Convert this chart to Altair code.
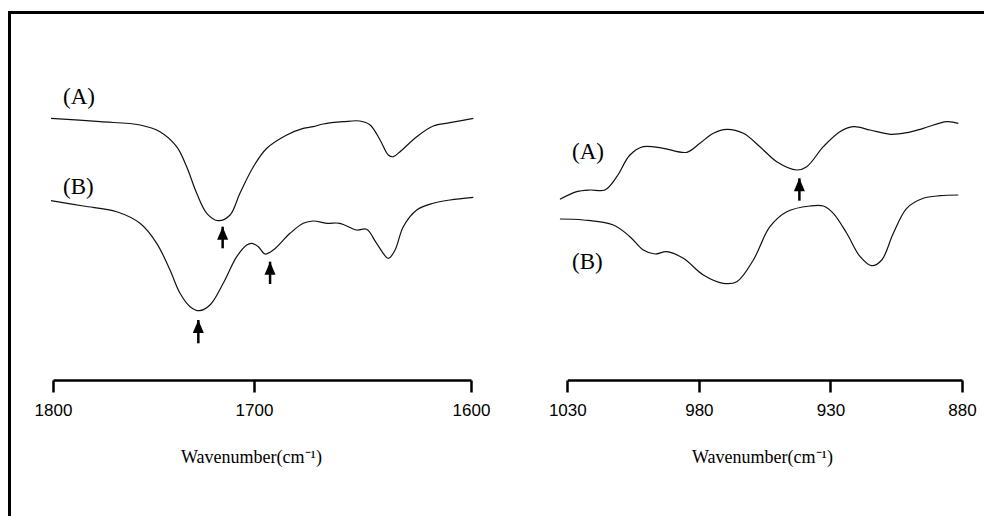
import altair as alt
import pandas as pd

# ---------------- data ----------------
# Left panel (1800-1600 cm-1), y in arbitrary transmittance units
left_wn_A = [1801, 1776.6, 1756.7, 1746.8, 1738.5, 1733.5, 1728.5, 1723.5, 1717.8, 1711.9,
             1707.0, 1700.3, 1694.1, 1684.9, 1677.3, 1672.7, 1668.1, 1658.8, 1651.2, 1646.5,
             1641.9, 1638.1, 1635.8, 1632.7, 1625.0, 1617.4, 1609.7, 1598.9]
left_A = [389.7, 386.3, 383, 376.3, 361.3, 341.3, 314.7, 294.7, 287.3, 293,
          314.7, 341.3, 359.7, 373, 379.7, 381.3, 384, 386.3, 387, 383,
          368, 353, 351.3, 356.3, 371.3, 382, 385.3, 389.7]

left_wn_B = [1801, 1784.9, 1768.3, 1756.7, 1748.4, 1741.8, 1736.8, 1731.8, 1727.2, 1721.9,
             1715.3, 1708.6, 1703.6, 1701.1, 1698.0, 1694.9, 1691.1, 1683.4, 1677.3, 1672.7,
             1666.5, 1660.4, 1652.7, 1648.1, 1643.5, 1638.1, 1635.0, 1631.2, 1625.0, 1617.4,
             1609.7, 1598.9]
left_B = [307.3, 302, 296.3, 284.7, 264.7, 238, 214.7, 201.3, 197.3, 203,
          224.7, 251.3, 263, 264.7, 261.3, 254, 258, 274.7, 284.7, 287,
          284.7, 284.7, 278, 278.7, 264.7, 249.7, 258, 281.3, 298, 304.7,
          308, 310.7]

# Right panel (1030-880 cm-1)
right_wn_A = [1032.8, 1026.4, 1021.4, 1015.7, 1011.2, 1006.2, 1001.1, 993.5, 984.6, 979.6,
              974.5, 969.4, 963.1, 956.8, 950.4, 942.8, 939.0, 932.7, 926.4, 921.3,
              914.9, 907.3, 901.0, 894.7, 885.8, 881.4]
right_A = [308.7, 316.3, 318, 318, 331.3, 353, 361.3, 359.7, 355.7, 364.7,
           374.7, 378.7, 374.7, 361.3, 346.3, 338, 341.3, 361.3, 376.3, 381.3,
           378, 373.7, 375.3, 379.7, 386.3, 384.7]

right_wn_B = [1032.8, 1023.9, 1012.5, 1006.2, 1001.1, 996.7, 992.2, 985.9, 978.3, 970.7,
              965.6, 959.3, 953.0, 946.6, 937.8, 932.7, 928.9, 923.8, 918.7, 914.3,
              910.5, 906.1, 901.0, 894.7, 888.3, 881.4]
right_B = [289, 288, 283, 271.3, 258, 254, 256.3, 249.7, 233, 224.7,
           226.3, 248, 281.3, 296.3, 302, 302, 294.7, 274.7, 251.3, 242.3,
           248, 274.7, 299.7, 309.7, 312.3, 313]

# Arrows (position, tip, tail)
left_arrow_wn = [1715.6, 1727.7, 1692.6]
left_arrow_tip = [281.3, 188, 246.3]
left_arrow_tail = [259.7, 164.7, 224]
right_arrow_wn = [941.8]
right_arrow_tip = [329.7]
right_arrow_tail = [307.3]

# Curve labels
left_label_wn = [1795, 1795]
left_label_y = [411, 321]
right_label_wn = [1028.2, 1028.2]
right_label_y = [356, 246]
label_text = ["(A)", "(B)"]

left_ticks = [1800, 1700, 1600]
right_ticks = [1030, 980, 930, 880]
x_title = "Wavenumber(cm\u207b\u00b9)"

# ---------------- tables ----------------
left_df = pd.concat([
    pd.DataFrame({"wn": left_wn_A, "y": left_A, "s": "A"}),
    pd.DataFrame({"wn": left_wn_B, "y": left_B, "s": "B"}),
])
right_df = pd.concat([
    pd.DataFrame({"wn": right_wn_A, "y": right_A, "s": "A"}),
    pd.DataFrame({"wn": right_wn_B, "y": right_B, "s": "B"}),
])
left_arr = pd.DataFrame({"wn": left_arrow_wn, "tip": left_arrow_tip, "tail": left_arrow_tail})
right_arr = pd.DataFrame({"wn": right_arrow_wn, "tip": right_arrow_tip, "tail": right_arrow_tail})
left_lab = pd.DataFrame({"wn": left_label_wn, "y": left_label_y, "t": label_text})
right_lab = pd.DataFrame({"wn": right_label_wn, "y": right_label_y, "t": label_text})


def make_axis(vals, title_x):
    return alt.Axis(
        values=vals, orient="bottom", grid=False, format="d",
        domainColor="black", domainWidth=2.5,
        tickColor="black", tickWidth=2.5, tickSize=12,
        labelFont="Liberation Sans", labelFontSize=17, labelColor="black",
        labelPadding=10, labelFlush=False, labelOverlap=False,
        title=x_title, titleFont="Liberation Serif", titleFontSize=18,
        titleFontWeight="normal", titleColor="black",
        titleBaseline="middle", titleY=77, titleX=title_x, titleAlign="center",
    )


xl = alt.X("wn:Q", scale=alt.Scale(domain=[1800, 1700, 1600], range=[53, 254, 471],
                                    zero=False, nice=False),
           axis=make_axis(left_ticks, 251))
xr = alt.X("wn:Q", scale=alt.Scale(domain=[1030, 880], range=[567.3, 962],
                                    zero=False, nice=False),
           axis=make_axis(right_ticks, 762))
yscale = alt.Scale(domain=[128, 508], zero=False, nice=False)

HEAD = "M0,0L0.85,2L-0.85,2Z"


def panel(df, arr, lab, x):
    line = alt.Chart(df).mark_line(color="#111", strokeWidth=1.2, interpolate="catmull-rom").encode(
        x=x, y=alt.Y("y:Q", scale=yscale, axis=None), detail="s:N")
    shaft = alt.Chart(arr).mark_rule(color="black", strokeWidth=2.5).encode(
        x=x, y=alt.Y("tip:Q", scale=yscale, axis=None), y2="tail:Q")
    head = alt.Chart(arr).mark_point(shape=HEAD, size=169, filled=True, color="black",
                                     opacity=1, strokeWidth=0).encode(
        x=x, y=alt.Y("tip:Q", scale=yscale, axis=None))
    text = alt.Chart(lab).mark_text(align="left", baseline="middle", font="Liberation Serif",
                                    fontSize=23, color="black").encode(
        x=x, y=alt.Y("y:Q", scale=yscale, axis=None), text="t:N")
    return alt.layer(line, shaft, head, text)


left = panel(left_df, left_arr, left_lab, xl)
right = panel(right_df, right_arr, right_lab, xr)

border_left = alt.Chart(pd.DataFrame({"a": [0]})).mark_rule(color="black", strokeWidth=3).encode(
    x=alt.value(9.5), y=alt.value(11), y2=alt.value(516))
border_top = alt.Chart(pd.DataFrame({"a": [0]})).mark_rule(color="black", strokeWidth=3).encode(
    x=alt.value(8), x2=alt.value(984), y=alt.value(12.5))

chart = alt.layer(left, right, border_left, border_top).resolve_scale(
    x="independent"
).properties(
    width=984, height=380,
    autosize=alt.AutoSizeParams(type="none"),
    padding={"left": 0, "top": 0, "right": 0, "bottom": 136},
    background="white",
).configure_view(stroke=None)

chart.save("out.html", embed_options={"renderer": "svg", "actions": False})
